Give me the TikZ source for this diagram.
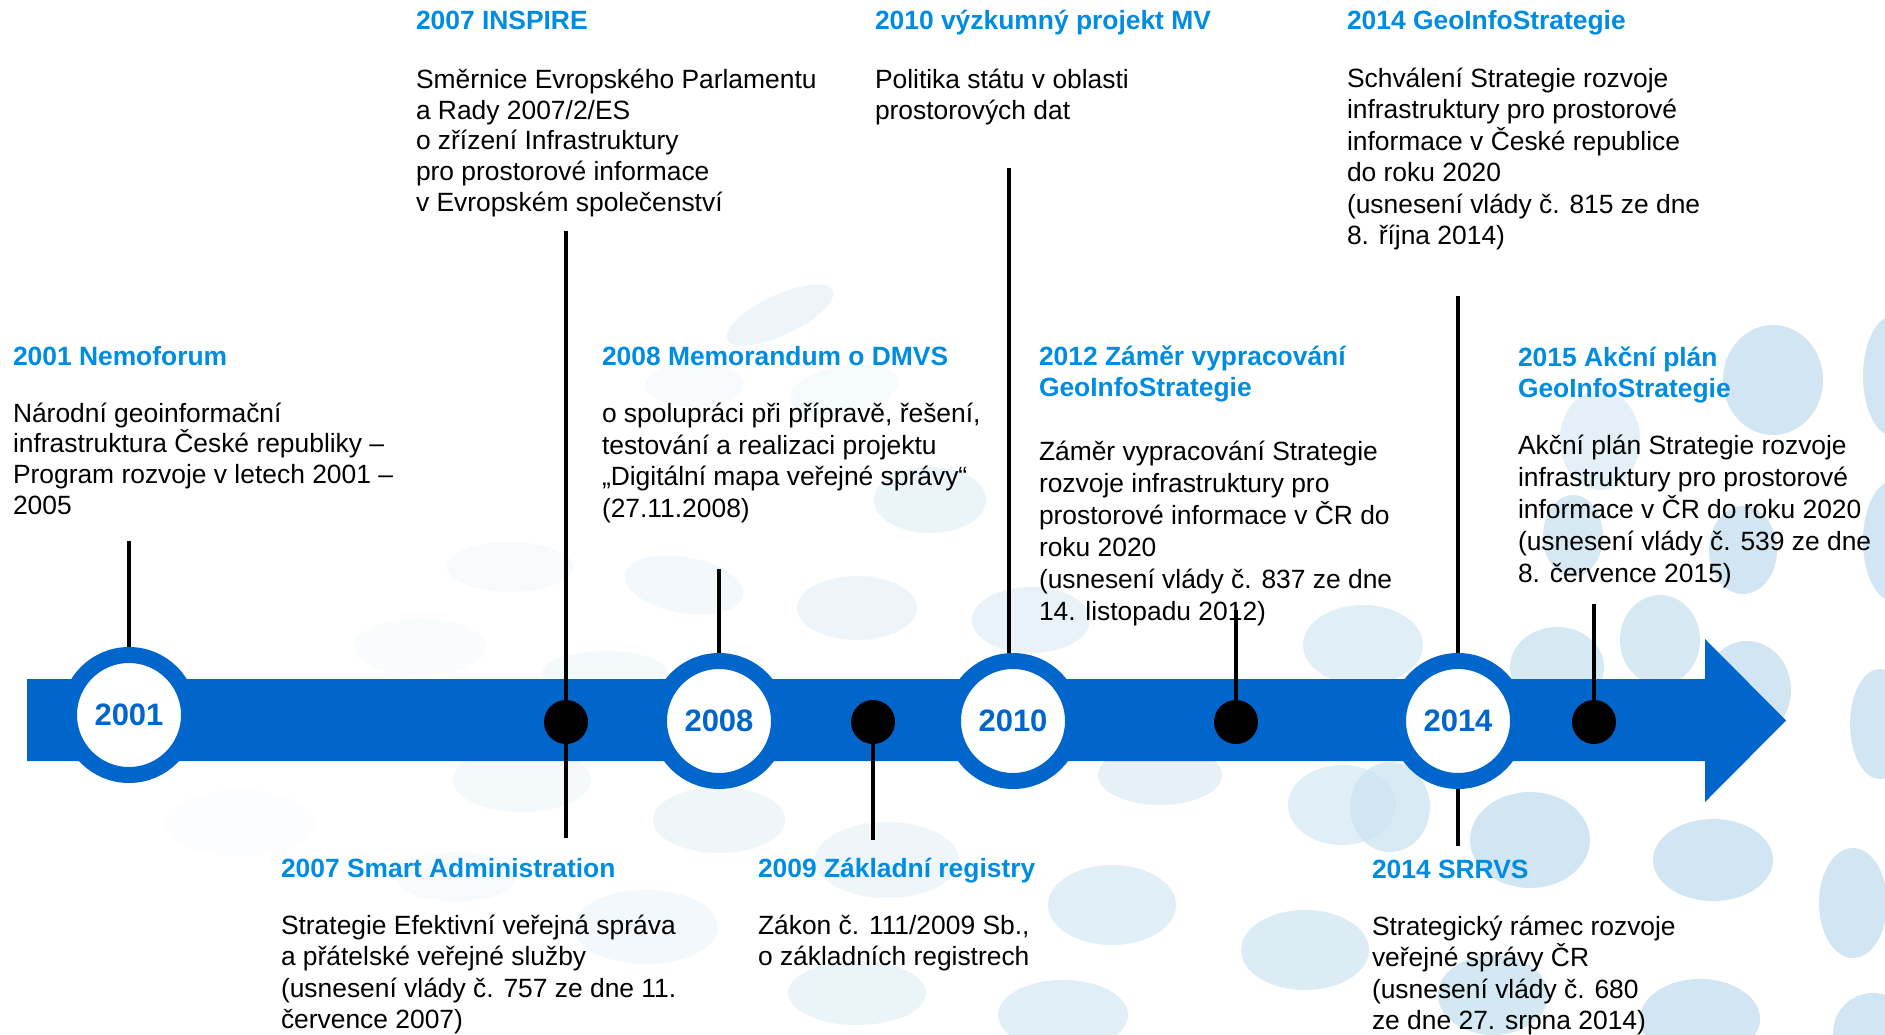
\documentclass[tikz,border=0pt]{standalone}
\usepackage{fontspec}
\setmainfont{Liberation Sans}
\definecolor{barblue}{RGB}{0,102,204}
\definecolor{tblue}{RGB}{0,140,225}
\definecolor{bub}{RGB}{204,228,241}
\begin{document}
\begin{tikzpicture}[x=1pt,y=-1pt,
  ttl/.style={anchor=base west,inner sep=0pt,outer sep=0pt,text=tblue,align=left,
    font=\bfseries\fontsize{26.4pt}{31.5pt}\selectfont},
  body/.style={anchor=base west,inner sep=0pt,outer sep=0pt,text=black,align=left,
    font=\fontsize{26.4pt}{#1}\selectfont},
  body/.default=31pt,
  yearc/.style={circle,fill=white,draw=barblue,line width=16pt,minimum size=120pt,
    inner sep=0pt,text=barblue,font=\bfseries\fontsize{31pt}{31pt}\selectfont},
  dot/.style={circle,fill=black,minimum size=44pt,inner sep=0pt,outer sep=0pt},
  stem/.style={draw=black,line width=4pt}]
\useasboundingbox (0,0) rectangle (1885,1035);
\fill[white] (0,0) rectangle (1885,1035);
% background bubbles
\foreach \x/\y/\a/\b/\r/\o in {
  510/567/63/25/0/0.15, 684/585/60/28/-10/0.25, 857/608/60/32/0/0.35,
  420/647/66/28/0/0.1, 605/673/63/22/0/0.2, 522/780/69/32/0/0.2,
  719/820/66/33/0/0.3, 240/823/75/33/0/0.07, 456/877/60/25/0/0.12,
  646/927/72/37/0/0.25, 857/993/69/32/0/0.4, 887/860/72/38/0/0.3,
  780/315/58/20/25/0.35, 844/390/55/24/10/0.18, 694/385/50/22/0/0.12,
  930/500/56/33/0/0.4, 1031/620/59/33/0/0.45, 1160/775/62/30/0/0.5,
  1342/805/54/40/0/0.6, 1112/905/64/40/0/0.6, 1305/950/64/40/0/0.7,
  1063/1015/65/35/0/0.6, 1363/645/60/40/0/0.6, 1557/667/47/40/0/0.8,
  1573/536/30/41/0/0.8, 1743/550/34/44/0/0.9, 1773/380/50/55/0/0.9,
  1747/690/44/49/0/0.9, 1530/840/60/48/0/0.9, 1713/860/60/41/0/0.9,
  1853/903/34/55/0/0.9, 1390/807/40/45/0/0.75, 1493/995/55/40/0/0.85,
  1700/1019/60/40/0/0.9, 1873/1033/40/40/0/0.9, 1880/724/30/55/0/0.9,
  1893/376/30/60/0/0.9, 1893/541/30/60/0/0.9, 1660/640/40/45/0/0.8,
  1600/440/40/50/0/0.55}
  \fill[bub,opacity=\o,rotate around={\r:(\x,\y)}] (\x,\y) ellipse [x radius=\a pt, y radius=\b pt];
% texts top (multi-line nodes are anchored at the baseline of their last line)
\node[ttl] (h07) at (416,30) {2007 INSPIRE};
\node[body=30.8pt] (b07) at (416,211.5) {Směrnice Evropského Parlamentu\\a Rady 2007/2/ES\\o zřízení Infrastruktury\\pro prostorové informace\\v Evropském společenství};
\node[ttl] (h10) at (875,30) {2010 výzkumný projekt MV};
\node[body=30.8pt] (b10) at (875,119.1) {Politika státu v oblasti\\prostorových dat};
\node[ttl] (h14) at (1347,30) {2014 GeoInfoStrategie};
\node[body=31.5pt] (b14) at (1347,244.8) {Schválení Strategie rozvoje\\infrastruktury pro prostorové\\informace v České republice\\do roku 2020\\(usnesení vlády č. 815 ze dne\\8. října 2014)};
% texts middle
\node[ttl] (h01) at (13,365) {2001 Nemoforum};
\node[body=30.8pt] (b01) at (13,514.4) {Národní geoinformační\\infrastruktura České republiky –\\Program rozvoje v letech 2001 –\\2005};
\node[ttl] (h08) at (602,365) {2008 Memorandum o DMVS};
\node[body=31.5pt] (b08) at (602,517) {o spolupráci při přípravě, řešení,\\testování a realizaci projektu\\„Digitální mapa veřejné správy“\\(27.11.2008)};
\node[ttl] (h12) at (1039,396.5) {2012 Záměr vypracování\\GeoInfoStrategie};
\node[body=32pt] (b12) at (1039,620) {Záměr vypracování Strategie\\rozvoje infrastruktury pro\\prostorové informace v ČR do\\roku 2020\\(usnesení vlády č. 837 ze dne\\14. listopadu 2012)};
\node[ttl] (h15) at (1518,397.5) {2015 Akční plán\\GeoInfoStrategie};
\node[body=32.2pt] (b15) at (1518,582.8) {Akční plán Strategie rozvoje\\infrastruktury pro prostorové\\informace v ČR do roku 2020\\(usnesení vlády č. 539 ze dne\\8. července 2015)};
% texts bottom
\node[ttl] (h07b) at (281,877) {2007 Smart Administration};
\node[body=31.5pt] (b07b) at (281,1028.5) {Strategie Efektivní veřejná správa\\a přátelské veřejné služby\\(usnesení vlády č. 757 ze dne 11.\\července 2007)};
\node[ttl] (h09) at (758,877) {2009 Základní registry};
\node[body=31.5pt] (b09) at (758,965.5) {Zákon č. 111/2009 Sb.,\\o základních registrech};
\node[ttl] (h14b) at (1372,878) {2014 SRRVS};
\node[body=31.5pt] (b14b) at (1372,1029.5) {Strategický rámec rozvoje\\veřejné správy ČR\\(usnesení vlády č. 680\\ze dne 27. srpna 2014)};
% timeline arrow
\fill[barblue] (27,679) -- (1705,679) -- (1705,639) -- (1786,720.5) -- (1705,802) -- (1705,761) -- (27,761) -- cycle;
% year circles
\node[yearc] (c2001) at (129,715) {2001};
\node[yearc] (c2008) at (719,721) {2008};
\node[yearc] (c2010) at (1013,721) {2010};
\node[yearc] (c2014) at (1458,721) {2014};
% stem ends
\coordinate (e2001) at (129,541);
\coordinate (e2007a) at (566,231);
\coordinate (e2007b) at (566,838);
\coordinate (e2008) at (719,569);
\coordinate (e2009) at (873,840);
\coordinate (e2010) at (1009,168);
\coordinate (e2012) at (1236,610);
\coordinate (e2014a) at (1458,296);
\coordinate (e2014b) at (1458,846);
\coordinate (e2015) at (1594,604);
% dots
\node[dot] (d2007) at (566,722) {};
\node[dot] (d2009) at (873,722) {};
\node[dot] (d2012) at (1236,722) {};
\node[dot] (d2015) at (1594,722) {};
% stems
\draw[stem] (e2001) -- (c2001);
\draw[stem] (e2007a) -- (d2007.center) -- (e2007b);
\draw[stem] (e2008) -- (c2008);
\draw[stem] (d2009.center) -- (e2009);
\draw[stem] (e2010) -- (e2010 |- c2010.north);
\draw[stem] (e2012) -- (d2012.center);
\draw[stem] (e2014a) -- (c2014);
\draw[stem] (c2014) -- (e2014b);
\draw[stem] (e2015) -- (d2015.center);
\end{tikzpicture}
\end{document}
